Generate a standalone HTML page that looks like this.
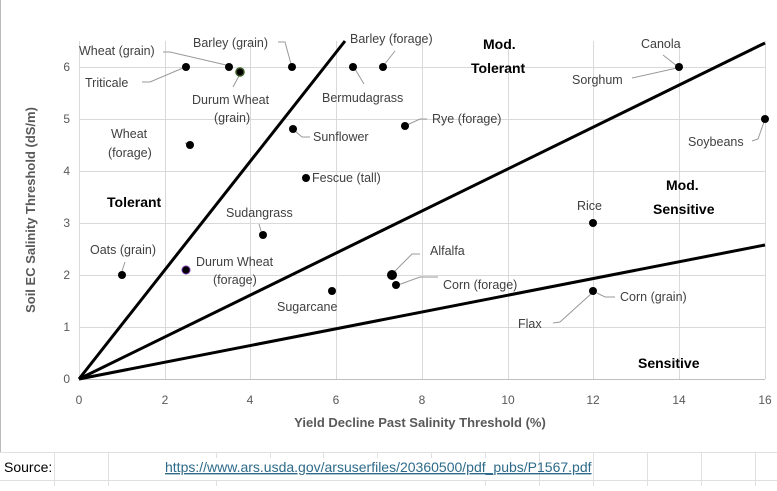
<!DOCTYPE html>
<html><head><style>
body{margin:0;background:#fff;width:777px;height:486px;overflow:hidden;font-family:"Liberation Sans",sans-serif}
svg text{font-family:"Liberation Sans",sans-serif}
</style></head><body>
<svg width="777" height="486" viewBox="0 0 777 486" xmlns="http://www.w3.org/2000/svg">
<rect x="0" y="0" width="777" height="486" fill="#fff"/>
<g stroke="#e0e0e0" stroke-width="1">
<line x1="0" y1="452.5" x2="777" y2="452.5"/><line x1="0" y1="480.5" x2="777" y2="480.5"/>
<line x1="54.5" y1="452" x2="54.5" y2="486"/><line x1="108.5" y1="452" x2="108.5" y2="486"/>
<line x1="216.5" y1="452" x2="216.5" y2="458"/><line x1="270.5" y1="452" x2="270.5" y2="458"/>
<line x1="323.5" y1="452" x2="323.5" y2="458"/><line x1="377.5" y1="452" x2="377.5" y2="458"/>
<line x1="431.5" y1="452" x2="431.5" y2="458"/><line x1="485.5" y1="452" x2="485.5" y2="458"/>
<line x1="539.5" y1="452" x2="539.5" y2="486"/><line x1="593.5" y1="452" x2="593.5" y2="486"/>
<line x1="647.5" y1="452" x2="647.5" y2="486"/><line x1="701.5" y1="452" x2="701.5" y2="486"/>
<line x1="755.5" y1="452" x2="755.5" y2="486"/>
<line x1="216.5" y1="480" x2="216.5" y2="486"/><line x1="485.5" y1="480" x2="485.5" y2="486"/>
</g>
<line x1="0.5" y1="0" x2="0.5" y2="452" stroke="#bbb"/>
<g stroke="#d9d9d9" stroke-width="1">
<line x1="79" y1="67.5" x2="765" y2="67.5"/><line x1="79" y1="119.5" x2="765" y2="119.5"/>
<line x1="79" y1="171.5" x2="765" y2="171.5"/><line x1="79" y1="223.5" x2="765" y2="223.5"/>
<line x1="79" y1="275.5" x2="765" y2="275.5"/><line x1="79" y1="327.5" x2="765" y2="327.5"/>
<line x1="79.5" y1="41" x2="79.5" y2="379"/><line x1="165.5" y1="41" x2="165.5" y2="379"/>
<line x1="250.5" y1="41" x2="250.5" y2="379"/><line x1="336.5" y1="41" x2="336.5" y2="379"/>
<line x1="422.5" y1="41" x2="422.5" y2="379"/><line x1="508.5" y1="41" x2="508.5" y2="379"/>
<line x1="593.5" y1="41" x2="593.5" y2="379"/><line x1="679.5" y1="41" x2="679.5" y2="379"/>
<line x1="765.5" y1="41" x2="765.5" y2="379"/>
</g>
<line x1="79" y1="379.5" x2="765" y2="379.5" stroke="#bfbfbf"/>
<g font-size="12" fill="#595959" text-anchor="end">
<text x="70" y="71">6</text><text x="70" y="123">5</text><text x="70" y="175">4</text>
<text x="70" y="227">3</text><text x="70" y="279">2</text><text x="70" y="331">1</text><text x="70" y="383">0</text>
</g>
<g font-size="12" fill="#595959" text-anchor="middle">
<text x="79" y="404">0</text><text x="165" y="404">2</text><text x="250" y="404">4</text><text x="336" y="404">6</text>
<text x="422" y="404">8</text><text x="508" y="404">10</text><text x="593" y="404">12</text><text x="679" y="404">14</text><text x="765" y="404">16</text>
</g>
<text x="420" y="427" font-size="13" font-weight="bold" fill="#595959" text-anchor="middle">Yield Decline Past Salinity Threshold (%)</text>
<text transform="translate(35,210) rotate(-90)" font-size="13" font-weight="bold" fill="#595959" text-anchor="middle">Soil EC Salinity Threshold (dS/m)</text>
<g stroke="#000" stroke-width="3">
<line x1="79" y1="379" x2="345" y2="41"/>
<line x1="79" y1="379" x2="765" y2="43"/>
<line x1="79" y1="379" x2="765" y2="245"/>
</g>
<g stroke="#999" stroke-width="1" fill="none">
<polyline points="163,52 170,52 226,65"/>
<polyline points="142,82 150,82 183,68"/>
<polyline points="278,42 285,42 291,64"/>
<polyline points="233,87 240,74"/>
<polyline points="384,65 395,51"/>
<polyline points="355,69 364,84"/>
<polyline points="185,143 188,144"/>
<polyline points="295,131 302,137 310,137"/>
<polyline points="407,125 420,119 427,119"/>
<polyline points="663,55 677,66"/>
<polyline points="632,78 677,68"/>
<polyline points="752,141 758,139 764,122"/>
<polyline points="261,231 259,224"/>
<polyline points="122,271 125,262"/>
<polyline points="393,273 412,254 420,254"/>
<polyline points="398,285 420,277 438,277"/>
<polyline points="597,293 605,297 615,297"/>
<polyline points="553,323 560,322 592,293"/>
</g>
<g fill="#000">
<circle cx="186" cy="67" r="4"/><circle cx="229" cy="67" r="4"/><circle cx="292" cy="67" r="4"/>
<circle cx="353" cy="67" r="4"/><circle cx="383" cy="67" r="4"/><circle cx="679" cy="67" r="4"/>
<circle cx="190" cy="145" r="4"/><circle cx="293" cy="129" r="4"/><circle cx="405" cy="126" r="4"/>
<circle cx="765" cy="119" r="4"/><circle cx="306" cy="178" r="4"/><circle cx="263" cy="235" r="4"/>
<circle cx="593" cy="223" r="4"/><circle cx="122" cy="275" r="4"/><circle cx="392" cy="275" r="5"/>
<circle cx="396" cy="285" r="4"/><circle cx="332" cy="291" r="4"/><circle cx="593" cy="291" r="4"/>
</g>
<circle cx="240" cy="72" r="4" fill="#000" stroke="#385723" stroke-width="1.5"/>
<circle cx="186" cy="270" r="4" fill="#000" stroke="#7030a0" stroke-width="1"/>
<g font-size="12.5" fill="#404040">
<text x="79" y="55">Wheat (grain)</text>
<text x="193" y="47">Barley (grain)</text>
<text x="350" y="43">Barley (forage)</text>
<text x="85" y="87">Triticale</text>
<text x="192" y="104">Durum Wheat</text>
<text x="214" y="122">(grain)</text>
<text x="322" y="102">Bermudagrass</text>
<text x="111" y="138">Wheat</text>
<text x="108" y="157">(forage)</text>
<text x="313" y="141">Sunflower</text>
<text x="432" y="123">Rye (forage)</text>
<text x="312" y="182">Fescue (tall)</text>
<text x="226" y="217">Sudangrass</text>
<text x="577" y="210">Rice</text>
<text x="90" y="254">Oats (grain)</text>
<text x="196" y="266">Durum Wheat</text>
<text x="213" y="284">(forage)</text>
<text x="430" y="255">Alfalfa</text>
<text x="443" y="289">Corn (forage)</text>
<text x="277" y="311">Sugarcane</text>
<text x="620" y="301">Corn (grain)</text>
<text x="518" y="328">Flax</text>
<text x="641" y="48">Canola</text>
<text x="572" y="84">Sorghum</text>
<text x="688" y="146">Soybeans</text>
</g>
<g font-size="14" font-weight="bold" fill="#000">
<text x="483" y="49">Mod.</text><text x="471" y="73">Tolerant</text>
<text x="107" y="207">Tolerant</text>
<text x="666" y="190">Mod.</text><text x="653" y="214">Sensitive</text>
<text x="638" y="368">Sensitive</text>
</g>
<text x="4" y="472" font-size="14" fill="#000">Source:</text>
<text x="165" y="472" font-size="14" fill="#2e6b8a" text-decoration="underline">https://www.ars.usda.gov/arsuserfiles/20360500/pdf_pubs/P1567.pdf</text>
</svg>
</body></html>
